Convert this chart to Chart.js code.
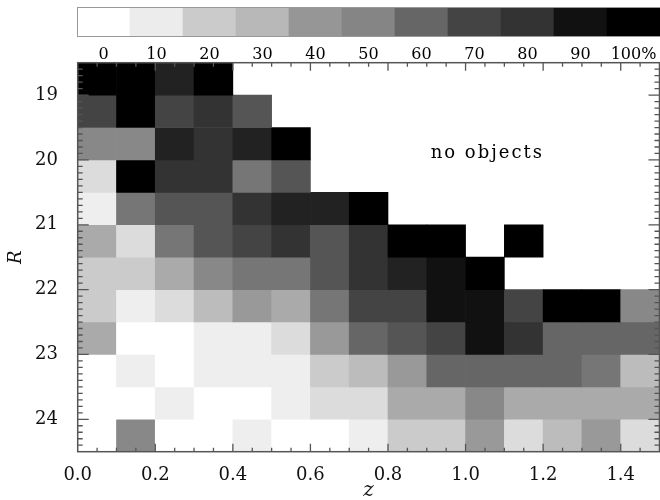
<!DOCTYPE html>
<html>
<head>
<meta charset="utf-8">
<script src="https://cdn.jsdelivr.net/npm/chart.js@4.4.1/dist/chart.umd.min.js"></script>
<style>
  html, body { margin: 0; padding: 0; background: #fff; width: 660px; height: 500px; overflow: hidden; }
  #main { position: absolute; left: 0; top: 0; width: 660px; height: 500px; }
  #cbar { position: absolute; left: 0; top: 0; width: 660px; height: 60px; }
</style>
</head>
<body>
<div id="main"><canvas id="main-canvas"></canvas></div>
<div id="cbar"><canvas id="cbar-canvas"></canvas></div>
<script>
// ---------- Data ----------
// redshift bins (left edges), width 0.1
const zBins = [0.0, 0.1, 0.2, 0.3, 0.4, 0.5, 0.6, 0.7, 0.8, 0.9, 1.0, 1.1, 1.2, 1.3, 1.4];
// R magnitude bins (bright edge), width 0.5
const rBins = [18.5, 19.0, 19.5, 20.0, 20.5, 21.0, 21.5, 22.0, 22.5, 23.0, 23.5, 24.0];

// completeness in percent per R bin, one value per z bin (null = no objects)
const pct_18_5 = [100, 100, 85, 100, null, null, null, null, null, null, null, null, null, null, null];
const pct_19_0 = [70, 100, 70, 80, 65, null, null, null, null, null, null, null, null, null, null];
const pct_19_5 = [48, 48, 85, 80, 85, 100, null, null, null, null, null, null, null, null, null];
const pct_20_0 = [15, 100, 80, 80, 55, 65, null, null, null, null, null, null, null, null, null];
const pct_20_5 = [9, 55, 65, 65, 80, 85, 85, 100, null, null, null, null, null, null, null];
const pct_21_0 = [34, 15, 55, 65, 70, 80, 65, 80, 100, 100, null, 100, null, null, null];
const pct_21_5 = [20, 20, 34, 48, 55, 55, 65, 80, 85, 90, 100, null, null, null, null];
const pct_22_0 = [20, 9, 15, 28, 39, 34, 55, 70, 70, 90, 90, 70, 100, 100, 48];
const pct_22_5 = [34, 0, 0, 9, 9, 15, 39, 60, 65, 70, 90, 80, 60, 60, 60];
const pct_23_0 = [0, 9, 0, 9, 9, 9, 20, 28, 39, 60, 60, 60, 60, 55, 28];
const pct_23_5 = [0, 0, 9, 0, 0, 9, 15, 15, 34, 34, 48, 34, 34, 34, 34];
const pct_24_0 = [0, 48, 0, 0, 9, 0, 0, 9, 20, 20, 39, 15, 28, 39, 15];
const rows = [pct_18_5, pct_19_0, pct_19_5, pct_20_0, pct_20_5, pct_21_0,
              pct_21_5, pct_22_0, pct_22_5, pct_23_0, pct_23_5, pct_24_0];

const zTicks = [0.0, 0.2, 0.4, 0.6, 0.8, 1.0, 1.2, 1.4];
const rTicks = [19, 20, 21, 22, 23, 24];
const levelLabels = ['0', '10', '20', '30', '40', '50', '60', '70', '80', '90', '100%'];

// ---------- Style ----------
const levelGrays = [255, 236, 203, 184, 150, 133, 102, 68, 51, 17, 0];
const serif = '"DejaVu Serif", "Liberation Serif", serif';

function grayFor(p) {
    const t = p / 10;
    const i = Math.min(9, Math.floor(t));
    const f = t - i;
    const g = Math.round(levelGrays[i] + (levelGrays[i + 1] - levelGrays[i]) * f);
    return `rgb(${g},${g},${g})`;
}

// ---------- Colour bar ----------
const cbarFrame = {
    id: 'cbarFrame',
    afterDatasetsDraw(chart) {
        const a = chart.chartArea;
        const ctx = chart.ctx;
        ctx.save();
        ctx.strokeStyle = '#999';
        ctx.lineWidth = 1;
        ctx.strokeRect(a.left + 0.5, a.top + 0.5, a.right - a.left, a.bottom - a.top);
        ctx.restore();
    }
};

new Chart(document.getElementById('cbar-canvas'), {
    type: 'bar',
    data: {
        labels: levelLabels,
        datasets: [{
            data: levelLabels.map(() => [0, 1]),
            backgroundColor: levelGrays.map(g => `rgb(${g},${g},${g})`),
            borderWidth: 0,
            categoryPercentage: 1,
            barPercentage: 1
        }]
    },
    options: {
        responsive: true,
        maintainAspectRatio: false,
        animation: false,
        devicePixelRatio: 1,
        layout: { padding: { left: 77, top: 7, right: 0, bottom: 0 } },
        plugins: { legend: { display: false }, tooltip: { enabled: false } },
        scales: {
            x: {
                grid: { display: false },
                border: { display: false },
                afterFit: s => { s.height = 24; },
                ticks: { color: '#000', font: { family: serif, size: 16 }, padding: 1, maxRotation: 0 }
            },
            y: { display: false, min: 0, max: 1 }
        }
    },
    plugins: [cbarFrame]
});

// ---------- Main chart ----------
const datasets = rBins.map((r, i) => {
    const cells = [];
    const colors = [];
    rows[i].forEach((p, j) => {
        if (p === null) return;
        cells.push({ x: zBins[j] + 0.05, y: [r, r + 0.5] });
        colors.push(grayFor(p));
    });
    return {
        data: cells,
        backgroundColor: colors,
        borderWidth: 0,
        grouped: false,
        categoryPercentage: 1,
        barPercentage: 1
    };
});

const frameAndTicks = {
    id: 'frameAndTicks',
    afterDatasetsDraw(chart) {
        const a = chart.chartArea;
        const ctx = chart.ctx;
        const xs = chart.scales.x, ys = chart.scales.y;
        ctx.save();
        ctx.strokeStyle = '#555';
        ctx.lineWidth = 1.3;
        ctx.beginPath();
        for (let k = 1; k < 30; k++) {
            const px = xs.getPixelForValue(k * 0.05);
            const len = k % 4 === 0 ? 8 : 4;
            ctx.moveTo(px, a.bottom); ctx.lineTo(px, a.bottom - len);
            ctx.moveTo(px, a.top); ctx.lineTo(px, a.top + len);
        }
        for (let k = 1; k < 60; k++) {
            const v = 18.5 + k * 0.1;
            const py = ys.getPixelForValue(v);
            const len = Math.abs(v - Math.round(v)) < 1e-6 ? 11 : 5;
            ctx.moveTo(a.left, py); ctx.lineTo(a.left + len, py);
            ctx.moveTo(a.right, py); ctx.lineTo(a.right - len, py);
        }
        ctx.stroke();
        ctx.lineWidth = 1.5;
        ctx.strokeRect(a.left, a.top, a.right - a.left, a.bottom - a.top);

        // label for the empty region
        ctx.fillStyle = '#000';
        ctx.font = '18px ' + serif;
        ctx.letterSpacing = '2px';
        ctx.textBaseline = 'middle';
        ctx.textAlign = 'left';
        ctx.fillText('no objects', xs.getPixelForValue(0.91), ys.getPixelForValue(19.9));
        ctx.restore();
    }
};

new Chart(document.getElementById('main-canvas'), {
    type: 'bar',
    data: { datasets: datasets },
    options: {
        responsive: true,
        maintainAspectRatio: false,
        animation: false,
        devicePixelRatio: 1,
        layout: { padding: { left: 0, top: 62.7, right: 0.5, bottom: 0 } },
        plugins: { legend: { display: false }, tooltip: { enabled: false } },
        scales: {
            x: {
                type: 'linear',
                min: 0,
                max: 1.5,
                offset: false,
                grid: { display: false, offset: false },
                border: { display: false },
                afterBuildTicks: s => { s.ticks = zTicks.map(v => ({ value: v })); },
                afterFit: s => { s.height = 48.3; },
                ticks: {
                    color: '#111',
                    font: { family: serif, size: 18 },
                    padding: 5,
                    maxRotation: 0,
                    autoSkip: false,
                    callback: v => v.toFixed(1)
                },
                title: {
                    display: true,
                    text: 'z',
                    color: '#111',
                    font: { family: serif, size: 20, style: 'italic', lineHeight: 1 },
                    padding: { top: 0, bottom: -1 }
                }
            },
            y: {
                type: 'linear',
                reverse: true,
                min: 18.5,
                max: 24.5,
                grid: { display: false },
                border: { display: false },
                afterBuildTicks: s => { s.ticks = rTicks.map(v => ({ value: v })); },
                afterFit: s => { s.width = 77.7; },
                ticks: {
                    color: '#111',
                    font: { family: serif, size: 18 },
                    padding: 11.7,
                    autoSkip: false,
                    callback: v => String(v)
                },
                title: {
                    display: true,
                    text: 'R',
                    color: '#111',
                    font: { family: serif, size: 18, style: 'italic' },
                    padding: { top: 6, bottom: 0 }
                }
            }
        }
    },
    plugins: [frameAndTicks]
});
</script>
</body>
</html>
